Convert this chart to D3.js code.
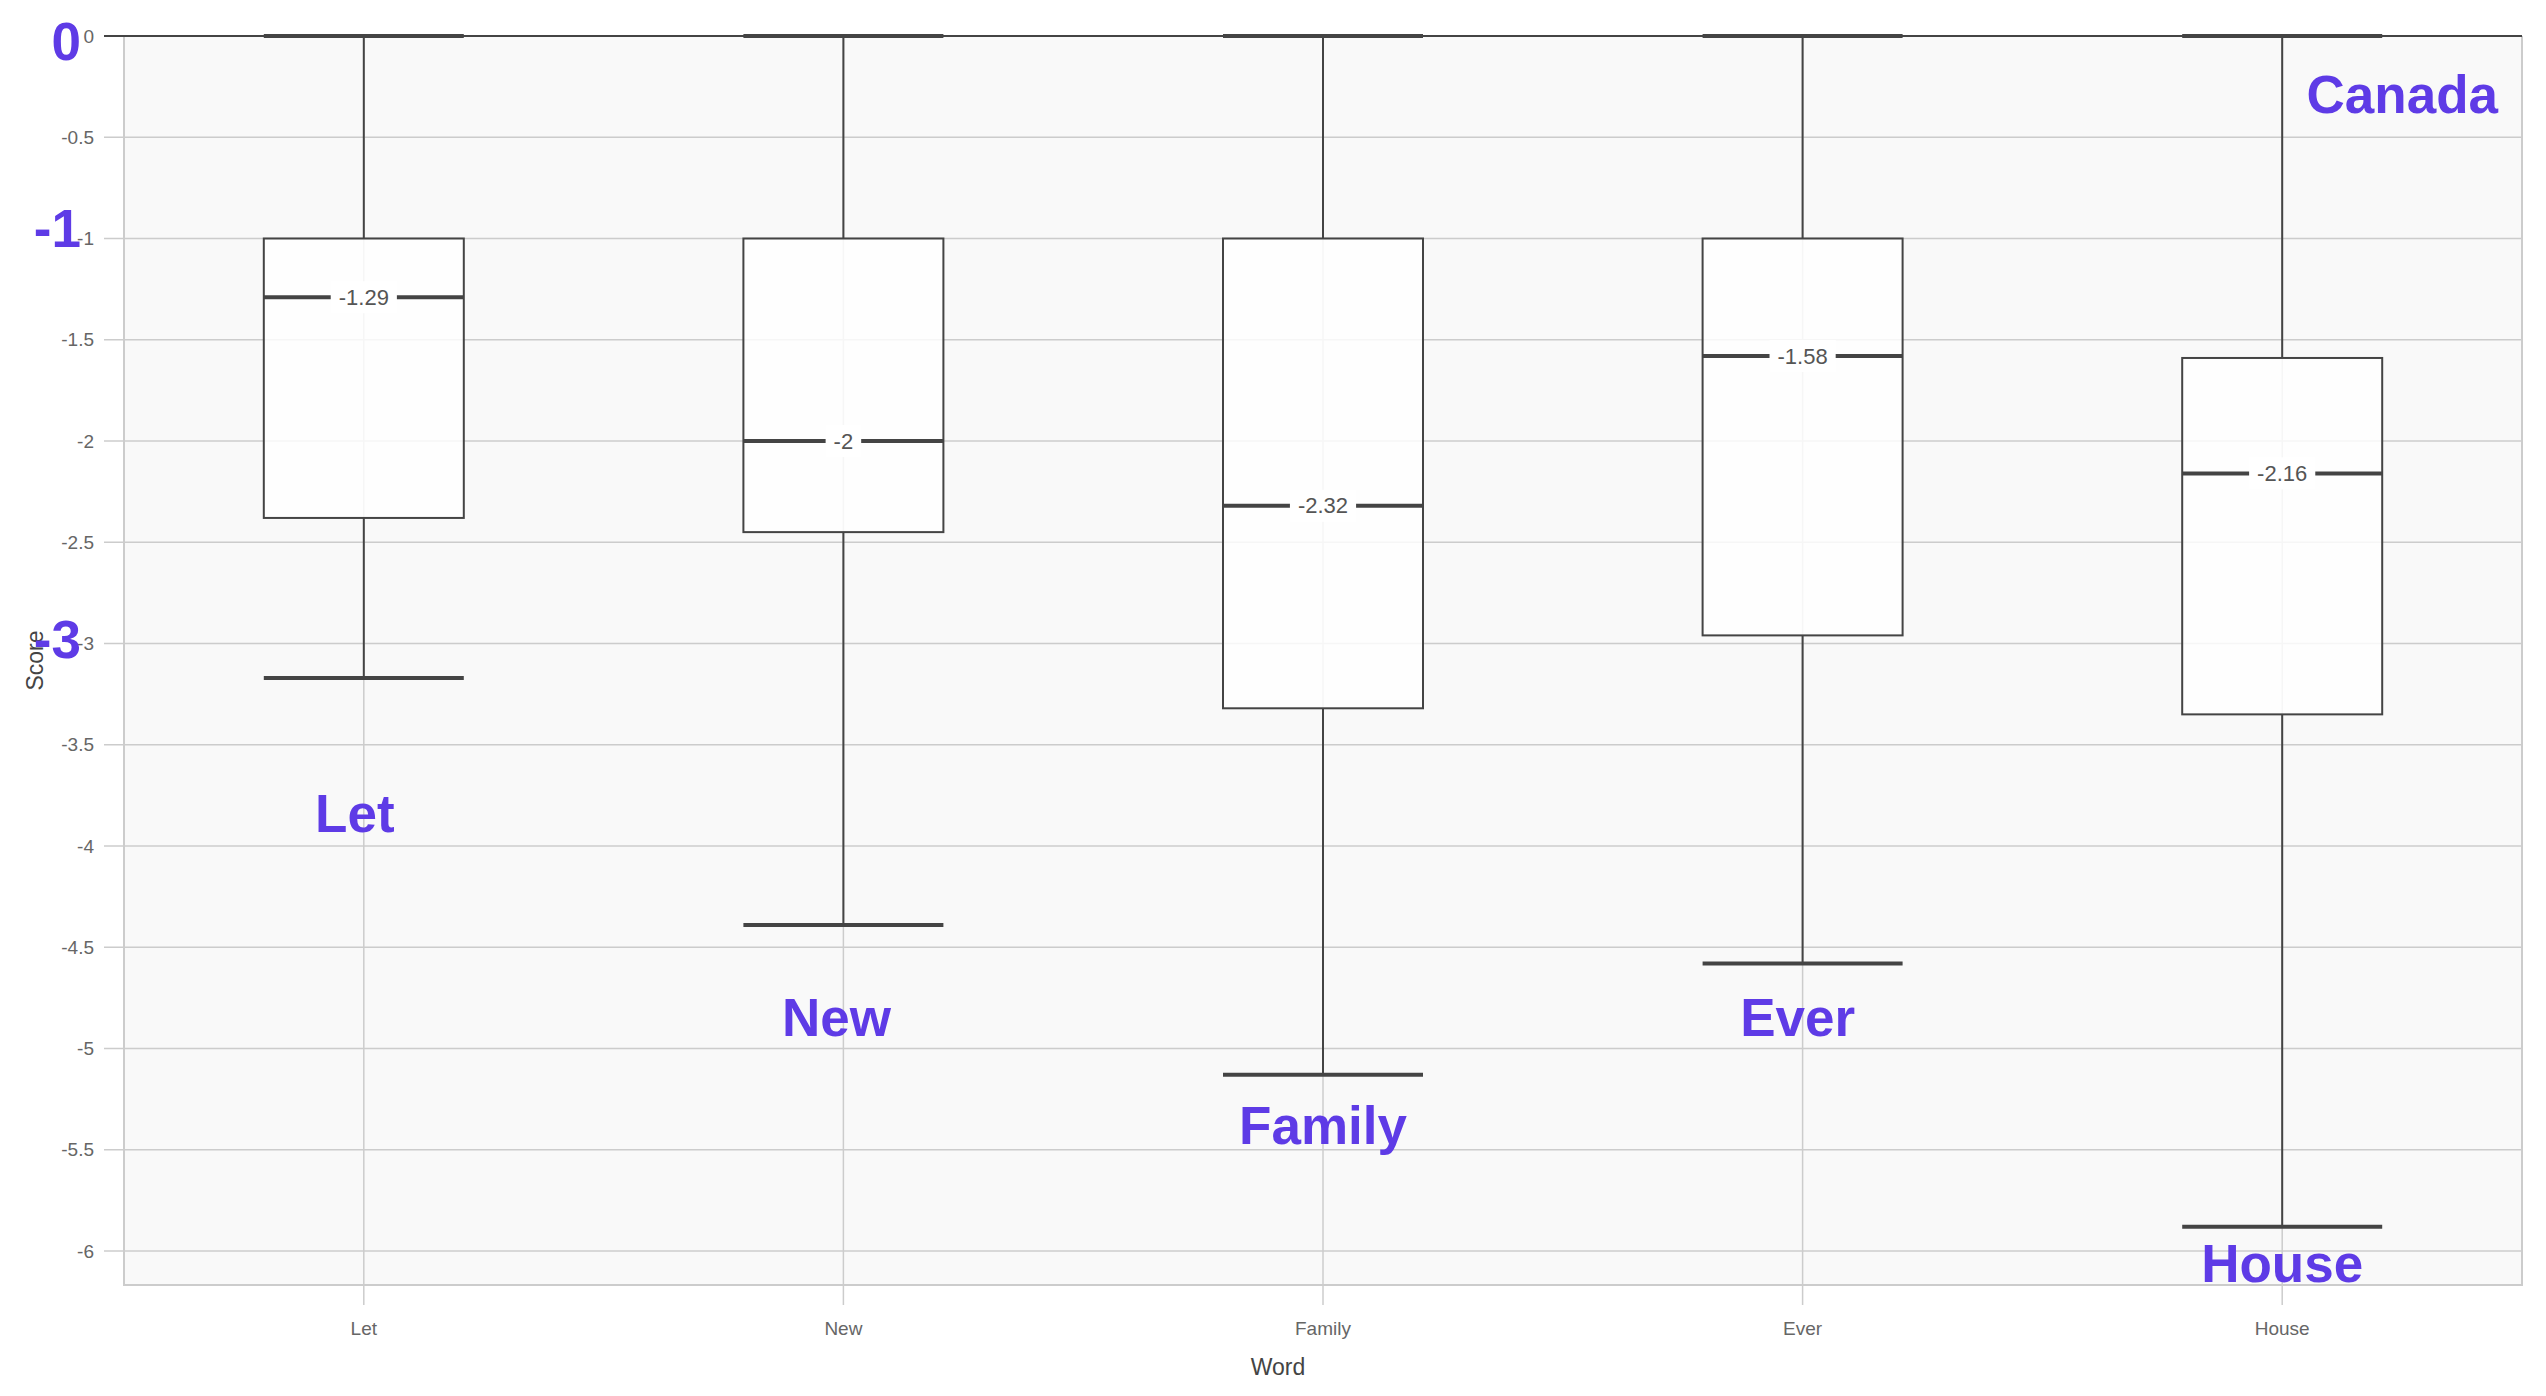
<!DOCTYPE html>
<html>
<head>
<meta charset="utf-8">
<script src="https://cdn.jsdelivr.net/npm/d3@7"></script>
<style>
  html, body { margin: 0; padding: 0; background: #ffffff; }
  svg { display: block; }
  text { font-family: "Helvetica Neue", Helvetica, Arial, "Liberation Sans", sans-serif; }
</style>
</head>
<body>
<svg id="chart" width="2546" height="1396"></svg>
<script>
// ---------- data ----------
const words        = ["Let", "New", "Family", "Ever", "House"];
const whiskerHigh  = [0, 0, 0, 0, 0];
const upperQuart   = [-1, -1, -1, -1, -1.59];
const medians      = [-1.29, -2, -2.32, -1.58, -2.16];
const lowerQuart   = [-2.38, -2.45, -3.32, -2.96, -3.35];
const whiskerLow   = [-3.17, -4.39, -5.13, -4.58, -5.88];

const yTicks = [0, -0.5, -1, -1.5, -2, -2.5, -3, -3.5, -4, -4.5, -5, -5.5, -6];
const yDomain = [-6.168, 0];

// annotation texts (purple), positions in data units (baseline)
const wordNoteTexts  = ["Let", "New", "Family", "Ever", "House"];
const wordNoteValues = [-3.93, -4.94, -5.47, -4.94, -6.155];
const axisNoteTexts  = ["0", "-1", "-3"];
const axisNoteValues = [-0.118, -1.042, -3.072];
const titleNote      = "Canada";
const titleNoteValue = -0.38;

// ---------- layout ----------
const W = 2546, H = 1396;
const margin = { top: 36, right: 24, bottom: 111, left: 124 };
const innerW = W - margin.left - margin.right;
const innerH = H - margin.top - margin.bottom;
const wordNoteShift = [-9, -7, 0, -5, 0]; // small horizontal nudges of the purple word notes (px)

const svg = d3.select("#chart");
const g = svg.append("g").attr("transform", `translate(${margin.left},${margin.top})`);

const x = d3.scaleBand().domain(words).range([0, innerW]).padding(0);
const y = d3.scaleLinear().domain(yDomain).range([innerH, 0]);
const boxW = 200;

// background
g.append("rect").attr("width", innerW).attr("height", innerH).attr("fill", "#f9f9f9");

// horizontal grid + ticks
g.append("g").selectAll("line").data(yTicks).join("line")
  .attr("x1", -20).attr("x2", innerW)
  .attr("y1", d => y(d)).attr("y2", d => y(d))
  .attr("stroke", d => d === 0 ? "#444" : "#cccccc")
  .attr("stroke-width", d => d === 0 ? 2 : 1.5);

// vertical grid + ticks
g.append("g").selectAll("line").data(words).join("line")
  .attr("x1", d => x(d) + x.bandwidth() / 2).attr("x2", d => x(d) + x.bandwidth() / 2)
  .attr("y1", 0).attr("y2", innerH + 20)
  .attr("stroke", "#cccccc").attr("stroke-width", 1.5);

// frame (left, bottom, right)
g.append("path")
  .attr("d", `M0,0V${innerH}H${innerW}V0`)
  .attr("fill", "none").attr("stroke", "#cccccc").attr("stroke-width", 2);

// redraw zero line on top of frame
g.append("line").attr("x1", -20).attr("x2", innerW).attr("y1", y(0)).attr("y2", y(0))
  .attr("stroke", "#444").attr("stroke-width", 2);

// y tick labels
g.append("g").selectAll("text").data(yTicks).join("text")
  .attr("x", -30).attr("y", d => y(d)).attr("dy", "0.35em")
  .attr("text-anchor", "end").attr("font-size", 19).attr("fill", "#666")
  .text(d => d === 0 ? "0" : String(d));

// x tick labels
g.append("g").selectAll("text").data(words).join("text")
  .attr("x", d => x(d) + x.bandwidth() / 2).attr("y", innerH + 50)
  .attr("text-anchor", "middle").attr("font-size", 19).attr("fill", "#666")
  .text(d => d);

// axis titles
svg.append("text").attr("x", W / 2 + 5).attr("y", 1375)
  .attr("text-anchor", "middle").attr("font-size", 23).attr("fill", "#444").text("Word");
svg.append("text")
  .attr("transform", `translate(43,${margin.top + innerH / 2}) rotate(-90)`)
  .attr("text-anchor", "middle").attr("font-size", 23).attr("fill", "#444").text("Score");

// boxes
const boxes = words.map((w, i) => ({
  w, hi: whiskerHigh[i], q1: upperQuart[i], med: medians[i], q3: lowerQuart[i], lo: whiskerLow[i]
}));
const bg = g.append("g").selectAll("g").data(boxes).join("g")
  .attr("transform", d => `translate(${x(d.w) + x.bandwidth() / 2},0)`);

// whiskers
bg.append("line").attr("x1", 0).attr("x2", 0)
  .attr("y1", d => y(d.hi)).attr("y2", d => y(d.q1))
  .attr("stroke", "#444").attr("stroke-width", 2);
bg.append("line").attr("x1", 0).attr("x2", 0)
  .attr("y1", d => y(d.q3)).attr("y2", d => y(d.lo))
  .attr("stroke", "#444").attr("stroke-width", 2);
// caps
bg.append("line").attr("x1", -boxW / 2).attr("x2", boxW / 2)
  .attr("y1", d => y(d.hi)).attr("y2", d => y(d.hi))
  .attr("stroke", "#444").attr("stroke-width", 4);
bg.append("line").attr("x1", -boxW / 2).attr("x2", boxW / 2)
  .attr("y1", d => y(d.lo)).attr("y2", d => y(d.lo))
  .attr("stroke", "#444").attr("stroke-width", 4);
// box
bg.append("rect").attr("x", -boxW / 2).attr("width", boxW)
  .attr("y", d => y(d.q1)).attr("height", d => y(d.q3) - y(d.q1))
  .attr("fill", "#ffffff").attr("fill-opacity", 0.82)
  .attr("stroke", "#444").attr("stroke-width", 2);
// median
bg.append("line").attr("x1", -boxW / 2).attr("x2", boxW / 2)
  .attr("y1", d => y(d.med)).attr("y2", d => y(d.med))
  .attr("stroke", "#444").attr("stroke-width", 4);
// median label with background
bg.each(function(d) {
  const sel = d3.select(this);
  const bgRect = sel.append("rect").attr("fill", "#ffffff");
  const t = sel.append("text").attr("x", 0).attr("y", y(d.med)).attr("dy", "0.35em")
    .attr("text-anchor", "middle").attr("font-size", 22).attr("fill", "#555")
    .text(String(d.med));
  const bb = t.node().getBBox();
  bgRect.attr("x", bb.x - 8).attr("width", bb.width + 16)
    .attr("y", y(d.med) - 16).attr("height", 32);
});

// purple annotations
const purple = "#5e3be6";
const ann = svg.append("g").attr("font-weight", "bold").attr("fill", purple).attr("font-size", 53);
ann.selectAll("text.word").data(wordNoteTexts).join("text").attr("class", "word")
  .attr("x", (d, i) => margin.left + x(words[i]) + x.bandwidth() / 2 + wordNoteShift[i])
  .attr("y", (d, i) => margin.top + y(wordNoteValues[i]))
  .attr("text-anchor", "middle").text(d => d);
ann.selectAll("text.axis").data(axisNoteTexts).join("text").attr("class", "axis")
  .attr("x", 81)
  .attr("y", (d, i) => margin.top + y(axisNoteValues[i]))
  .attr("text-anchor", "end").text(d => d);
ann.append("text").attr("x", margin.left + innerW - 24)
  .attr("y", margin.top + y(titleNoteValue))
  .attr("text-anchor", "end").text(titleNote);
</script>
</body>
</html>
